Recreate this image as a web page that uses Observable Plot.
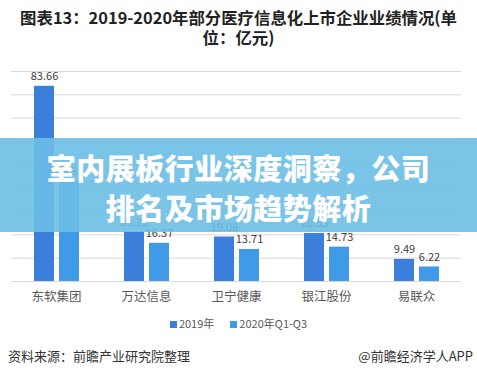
<!DOCTYPE html>
<html><head><meta charset="utf-8">
<script src="https://cdn.jsdelivr.net/npm/d3@7"></script>
<script src="https://cdn.jsdelivr.net/npm/@observablehq/plot@0.6"></script>
<style>
body{margin:0;background:#fff;font-family:"Noto Sans CJK SC","Noto Sans",sans-serif;}
#wrap{position:relative;width:477px;height:377px;overflow:hidden;background:#fff;}
#title{position:absolute;left:0;top:7px;width:477px;text-align:center;font-weight:bold;font-size:16.4px;line-height:20px;color:#222;}
#chart{position:absolute;left:0;top:50px;}
#legend{position:absolute;top:315px;left:0;width:477px;text-align:center;font-size:11px;color:#595959;}
#legend span.sw{display:inline-block;width:7px;height:7px;margin-right:2px;vertical-align:0px;}
#src{position:absolute;left:8px;top:346px;font-size:13px;color:#333;}
#app{position:absolute;right:4px;top:346px;font-size:13px;color:#333;}
#banner{position:absolute;left:0;top:138px;width:477px;height:94px;background:rgba(108,190,228,0.9);color:#fff;font-weight:900;font-size:29px;line-height:40px;text-align:center;padding-top:9px;box-sizing:border-box;letter-spacing:0.5px;}
</style></head>
<body><div id="wrap">
<div id="title">图表13：2019-2020年部分医疗信息化上市企业业绩情况(单<br>位：亿元)</div>
<div id="chart"></div>
<div id="legend"></div>
<div id="src">资料来源：前瞻产业研究院整理</div>
<div id="app">@前瞻经济学人APP</div>
<div id="banner">室内展板行业深度洞察，公司<br>排名及市场趋势解析</div>
</div>
<script>
const companies = ["东软集团","万达信息","卫宁健康","银江股份","易联众"];
const seriesNames = ["2019年","2020年Q1-Q3"];
const values2019 = [83.66, 21.22, 19.08, 20.55, 9.49];
const values2020 = [42.85, 16.37, 13.71, 14.73, 6.22];
const colors = ["#3b7fdc","#3f9ae8"];
const yTicks = [0,10,20,30,40,50,60,70,80,90];

const data = [];
companies.forEach((c,i)=>{
  data.push({company:c, series:seriesNames[0], value:values2019[i]});
  data.push({company:c, series:seriesNames[1], value:values2020[i]});
});

const chart = Plot.plot({
  width: 477, height: 260,
  marginLeft: 9, marginRight: 14, marginTop: 21, marginBottom: 29,
  style: {fontFamily: '"Noto Sans CJK SC","Noto Sans",sans-serif', background: "transparent"},
  fx: {domain: companies, label: null, tickSize: 0, tickPadding: 11, padding: 0, axis: "bottom"},
  x: {domain: seriesNames, axis: null, paddingInner: 0.2, paddingOuter: 0.88},
  y: {domain: [0, 90], axis: null},
  color: {domain: seriesNames, range: colors},
  marks: [
    Plot.ruleY(yTicks, {stroke: "#d9d9d9", strokeWidth: 1}),
    Plot.barY(data, {fx: "company", x: "series", y: "value", fill: "series"}),
    Plot.text(data, {fx: "company", x: "series", y: "value", text: d => d.value.toFixed(2), dy: -10, fontSize: 11, fill: "#404040"})
  ]
});
chart.querySelectorAll('g[aria-label^="fx-axis"] text').forEach(t=>{t.style.fontSize="12.5px";t.setAttribute("fill","#595959");});
document.getElementById("chart").appendChild(chart);

const lg = document.getElementById("legend");
lg.innerHTML = seriesNames.map((s,i)=>`<span style="margin:0 8px"><span class="sw" style="background:${colors[i]}"></span>${s}</span>`).join("");
</script>
</body></html>
